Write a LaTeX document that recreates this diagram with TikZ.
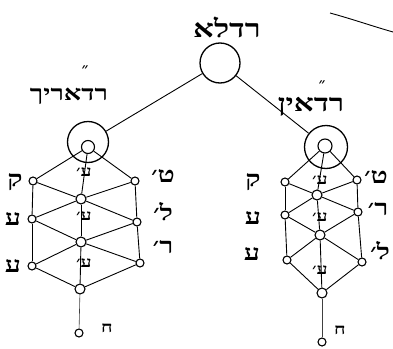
\documentclass[tikz,border=0pt]{standalone}
\usepackage{fontspec}
\newfontfamily\hebfont[Script=Hebrew, FakeStretch=1.3]{Liberation Serif}
\TeXXeTstate=1
\newcommand{\heb}[1]{{\hebfont\beginR #1\endR}}
\usetikzlibrary{positioning, backgrounds}

\begin{document}
\begin{tikzpicture}[
    x=1pt, y=-1pt,
    dot/.style={circle, draw, line width=1.1pt, fill=white, inner sep=0pt, minimum size=8pt},
    ring/.style={circle, draw, line width=1.3pt, inner sep=0pt, minimum size=40pt},
    link/.style={line width=0.9pt},
    tailink/.style={line width=0.6pt, black!75},
    big/.style={font=\fontsize{21}{21}\selectfont\bfseries, inner sep=0pt},
    side/.style={font=\fontsize{22}{22}\selectfont\bfseries, inner sep=0pt},
    mid/.style={font=\fontsize{15}{15}\selectfont\bfseries, inner sep=0pt},
    gmark/.style={font=\fontsize{14}{14}\selectfont\bfseries, inner sep=0pt}
]
    \useasboundingbox (0,0) rectangle (393,348);

    % crown
    \node[ring] (top) at (220,63) {};
    \node[big, font=\fontsize{25}{25}\selectfont\bfseries] (toplbl) at (227,27) {\heb{רדלא}};

    % left tree
    \node[ring, minimum size=41pt] (L-head) at (88,142) {};
    \node[dot, minimum size=13pt] (L-h) at (88,147) {};
    \node[dot] (L-k1) at (33,181) {};
    \node[dot] (L-k2) at (32,219) {};
    \node[dot] (L-k3) at (32,266) {};
    \node[dot] (L-t1) at (135,181) {};
    \node[dot] (L-t2) at (137,222) {};
    \node[dot] (L-t3) at (140,263) {};
    \node[dot, minimum size=10pt] (L-m1) at (81,199) {};
    \node[dot, minimum size=10pt] (L-m2) at (81,242) {};
    \node[dot, minimum size=10pt] (L-end) at (80,289) {};
    \node[dot] (L-tail) at (79,333) {};

    % right tree
    \node[ring, minimum size=43pt] (R-head) at (326,147) {};
    \node[dot, minimum size=14pt] (R-h) at (325,146) {};
    \node[dot] (R-k1) at (285,182) {};
    \node[dot] (R-k2) at (285,215) {};
    \node[dot] (R-k3) at (287,260) {};
    \node[dot] (R-t1) at (357,180) {};
    \node[dot] (R-t2) at (358,212) {};
    \node[dot] (R-t3) at (362,262) {};
    \node[dot, minimum size=10pt] (R-m1) at (317,195) {};
    \node[dot, minimum size=10pt] (R-m2) at (320,235) {};
    \node[dot, minimum size=10pt] (R-end) at (322,293) {};
    \node[dot] (R-tail) at (322,342) {};

    % tree names
    \node[big] (L-name) at (69,96) {\heb{רדאריך}};
    \node[gmark] at (85,70) {\heb{״}};
    \node[big, font=\fontsize{24}{24}\selectfont\bfseries] (R-name) at (311,107) {\heb{רדאין}};
    \node[gmark] at (322,85) {\heb{״}};

    % letters beside the trees
    \node[side] at (15,182) {\heb{ק}};
    \node[side] at (13,219) {\heb{ע}};
    \node[side] at (13,266) {\heb{ע}};
    \node[side] at (163,176) {\heb{ט׳}};
    \node[side] at (163,212) {\heb{ל׳}};
    \node[side] at (163,247) {\heb{ר׳}};
    \node[mid] at (107,328) {\heb{ח}};

    \node[side] at (253,182) {\heb{ק}};
    \node[side] at (253,218) {\heb{ע}};
    \node[side] at (252,254) {\heb{ע}};
    \node[side] at (376,177) {\heb{ט׳}};
    \node[side] at (378,209) {\heb{ר׳}};
    \node[side] at (380,251) {\heb{ל׳}};
    \node[mid] at (340,330) {\heb{ח}};

    \foreach \t/\x/\ya/\yb/\yc in {L/84/172/216/263, R/320/180/217/270}{
        \node[mid] at (\x,\ya) {\heb{ע׳}};
        \node[mid] at (\x,\yb) {\heb{ע׳}};
        \node[mid] at (\x,\yc) {\heb{ע׳}};
    }

    \begin{scope}[on background layer]
        \draw[link] (top) -- (L-head);
        \draw[link] (top) -- (R-head);
        \foreach \t in {L,R}{
            \foreach \a/\b in {h/k1, h/t1, h/m1, k1/m1, t1/m1, k1/k2, t1/t2,
                               m1/k2, m1/t2, k2/m2, t2/m2, m1/m2, k2/k3, t2/t3,
                               m2/k3, m2/t3, k3/end, t3/end, m2/end}
                \draw[link] (\t-\a) -- (\t-\b);
            \draw[tailink] (\t-end) -- (\t-tail);
        }
    \end{scope}

    % edge of the outer circle
    \coordinate (arcA) at (330,13);
    \coordinate (arcB) at (393,32);
    \draw[link] (arcA) .. controls (352,19) and (372,26) .. (arcB);
\end{tikzpicture}
\end{document}
